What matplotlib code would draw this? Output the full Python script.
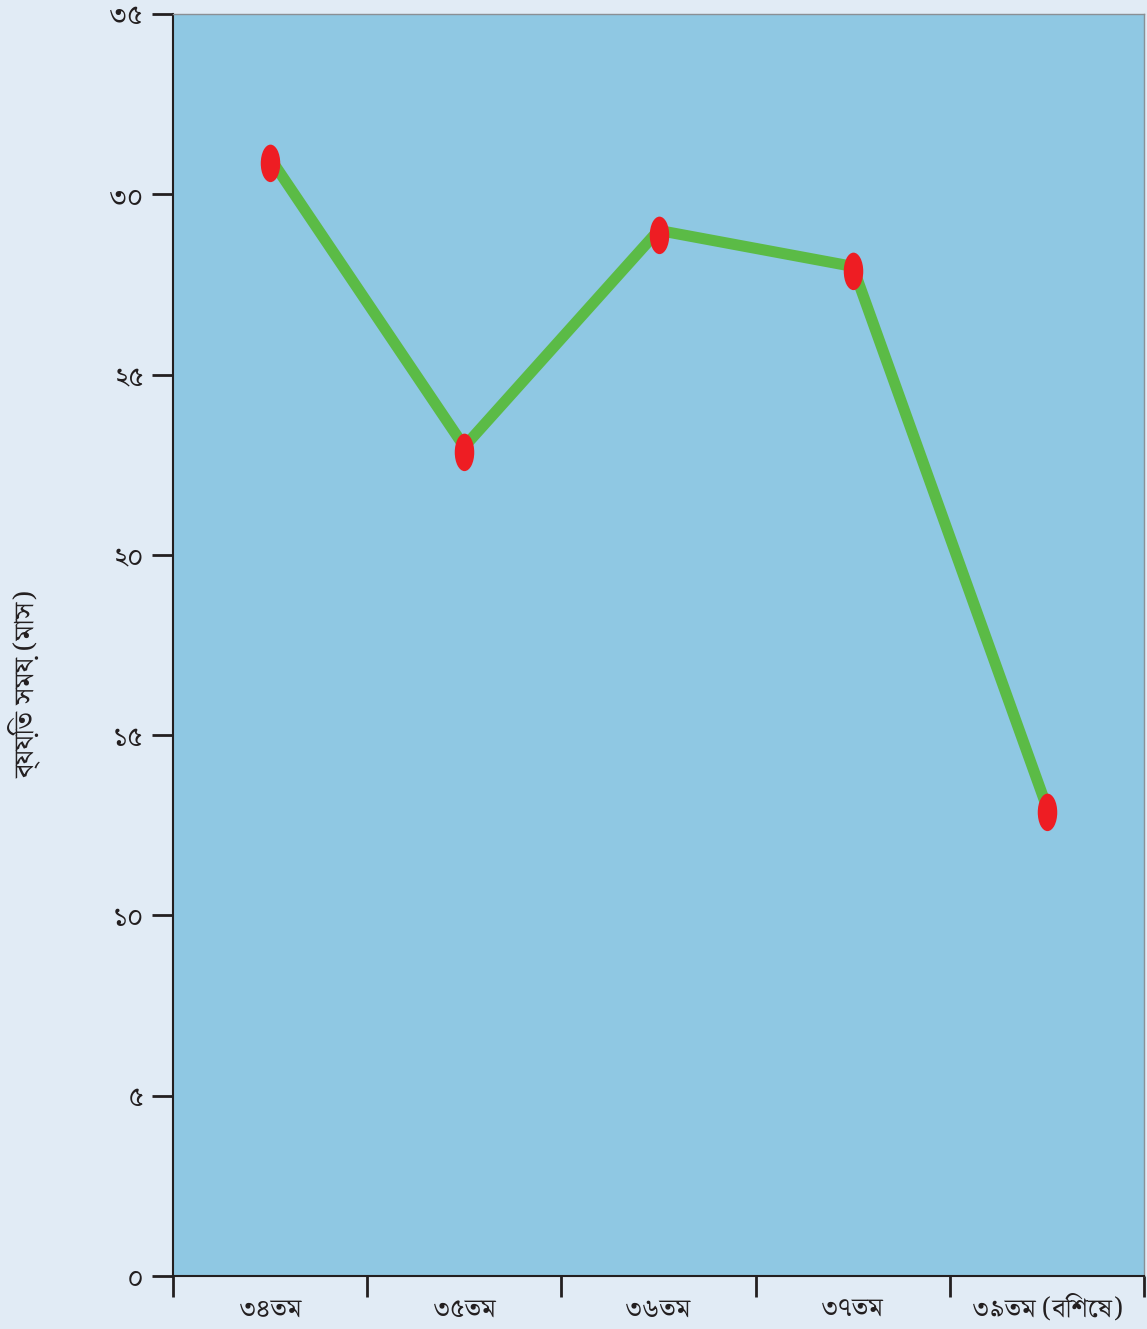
import matplotlib
matplotlib.use("Agg")
import matplotlib.pyplot as plt
from matplotlib.path import Path
from matplotlib.markers import MarkerStyle
from matplotlib.transforms import Affine2D
import numpy as np

categories = ["৩৪তম", "৩৫তম", "৩৬তম", "৩৭তম", "৩৯তম (বিশেষ)"]
months = [31, 23, 29, 28, 13]
ytick_values = [0, 5, 10, 15, 20, 25, 30, 35]
ytick_labels = ["০", "৫", "১০", "১৫", "২০", "২৫", "৩০", "৩৫"]
ylabel = "ব্যয়িত সময় (মাস)"

plt.rcParams['font.family'] = ['Noto Serif Bengali', 'Noto Sans Bengali', 'DejaVu Sans']

fig = plt.figure(figsize=(11.47, 13.29), dpi=100)
fig.patch.set_facecolor("#e1ebf5")
ax = fig.add_axes([173/1147, 53/1329, (1144-173)/1147, (1276-14)/1329])
ax.set_facecolor("#8fc8e3")

x = np.arange(len(categories))
ellipse = Path.unit_circle().transformed(Affine2D().scale(0.52, 1.0))
marker = MarkerStyle(ellipse, transform=Affine2D().translate(0, -0.13))
ax.plot(x, months, color="#5bbb46", linewidth=8.0, solid_capstyle="butt", zorder=2)
ax.plot(x, months, linestyle="none", marker=marker, markersize=27,
        markerfacecolor="#ee1d23", markeredgecolor="none", zorder=3)

ax.set_xlim(-0.5, len(categories) - 0.5)
ax.set_ylim(0, 35)
ax.set_yticks(ytick_values)
ax.set_yticklabels(ytick_labels, fontsize=20, color="#231f20")
ax.set_xticks(np.arange(-0.5, len(categories)), labels=[""] * (len(categories) + 1))
ax.set_xticks(x, minor=True)
ax.set_xticklabels(categories, minor=True, fontsize=19, color="#231f20")
ax.tick_params(axis="x", which="major", length=15, width=2, color="#231f20")
ax.tick_params(axis="x", which="minor", length=0, pad=14)
ax.tick_params(axis="y", length=15, width=2, color="#231f20", pad=6)

for side in ["left", "bottom"]:
    ax.spines[side].set_color("#231f20")
    ax.spines[side].set_linewidth(1.5)
for side in ["top", "right"]:
    ax.spines[side].set_color("#8a8f94")
    ax.spines[side].set_linewidth(1.0)

fig.text(25/1147, 645/1329, ylabel, rotation=90, fontsize=20, color="#231f20",
         ha="center", va="center")

fig.savefig("out.png", dpi=100, facecolor=fig.get_facecolor())
